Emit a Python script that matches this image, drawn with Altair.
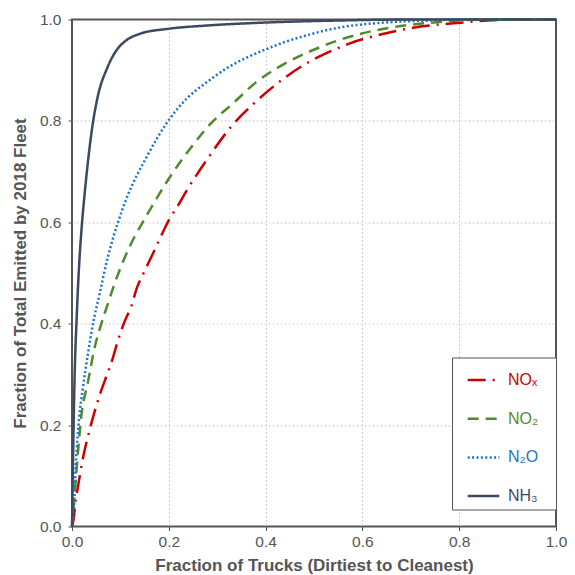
import altair as alt
import pandas as pd

series = ["NOₓ", "NO₂", "N₂O", "NH₃"]
colors = ["#cc0000", "#4f8a2b", "#1a73c9", "#3d4961"]
dashes = [[18, 7, 2, 7], [11, 7], [2, 2.4], [1, 0]]

nox_x = [0, 0.003, 0.008, 0.011, 0.021, 0.038, 0.060, 0.071, 0.083, 0.094, 0.109, 0.122, 0.135, 0.149,
         0.168, 0.186, 0.201, 0.217, 0.241, 0.282, 0.329, 0.38, 0.441, 0.482, 0.529, 0.574, 0.645, 0.72,
         0.795, 0.86, 0.9, 1.0]
nox_y = [0, 0.012, 0.055, 0.071, 0.127, 0.196, 0.267, 0.296, 0.328, 0.364, 0.405, 0.433, 0.473, 0.502,
         0.54, 0.577, 0.606, 0.63, 0.669, 0.728, 0.789, 0.838, 0.886, 0.912, 0.935, 0.953, 0.972, 0.986,
         0.993, 0.998, 1.0, 1.0]

no2_x = [0, 0.006, 0.012, 0.019, 0.033, 0.047, 0.060, 0.074, 0.088, 0.111, 0.129, 0.146, 0.168, 0.2,
         0.244, 0.291, 0.332, 0.38, 0.427, 0.482, 0.522, 0.557, 0.597, 0.665, 0.733, 0.8, 0.85, 1.0]
no2_y = [0, 0.071, 0.143, 0.216, 0.285, 0.354, 0.398, 0.439, 0.479, 0.535, 0.571, 0.6, 0.636, 0.686,
         0.745, 0.799, 0.834, 0.876, 0.906, 0.933, 0.949, 0.961, 0.972, 0.985, 0.993, 0.998, 1.0, 1.0]

n2o_x = [0, 0.005, 0.008, 0.015, 0.022, 0.033, 0.043, 0.057, 0.074, 0.094, 0.111, 0.156, 0.198, 0.237,
         0.278, 0.318, 0.359, 0.40, 0.441, 0.482, 0.522, 0.563, 0.62, 0.68, 0.74, 0.8, 1.0]
n2o_y = [0, 0.058, 0.124, 0.216, 0.27, 0.341, 0.398, 0.459, 0.531, 0.597, 0.643, 0.732, 0.799, 0.844,
         0.876, 0.903, 0.924, 0.941, 0.956, 0.968, 0.978, 0.986, 0.992, 0.996, 0.998, 1.0, 1.0]

nh3_x = [0, 0.005, 0.01, 0.015, 0.02, 0.026, 0.033, 0.043, 0.053, 0.073, 0.094, 0.107, 0.141, 0.202,
         0.277, 0.4, 0.55, 0.7, 1.0]
nh3_y = [0, 0.28, 0.42, 0.52, 0.59, 0.655, 0.72, 0.795, 0.847, 0.905, 0.942, 0.955, 0.972, 0.982,
         0.988, 0.994, 0.998, 1.0, 1.0]

ticks = [0.0, 0.2, 0.4, 0.6, 0.8, 1.0]

rows = []
for name, xs, ys in zip(series, [nox_x, no2_x, n2o_x, nh3_x], [nox_y, no2_y, n2o_y, nh3_y]):
    for i, (a, b) in enumerate(zip(xs, ys)):
        rows.append({"series": name, "x": a, "y": b, "i": i})
df = pd.DataFrame(rows)

label_expr = " : ".join(
    f"datum.value == '{s}' ? '{c}'" for s, c in zip(series, colors)
) + " : '#333'"

legend = alt.Legend(
    title=None, orient="none", legendX=380, legendY=338,
    strokeColor="#555", padding=5, cornerRadius=0, fillColor="white",
    symbolType="stroke", symbolSize=1000, symbolStrokeWidth=2.5, symbolOffset=9,
    labelFontSize=16, labelFont="Liberation Sans", labelOffset=7,
    labelColor={"expr": label_expr}, rowPadding=12.7,
    labelExpr="datum.label + '\u2800'",
)

grid_color = {"condition": {"test": "datum.value == 0 || datum.value == 1", "value": "transparent"},
              "value": "#cfcfcf"}

chart = alt.Chart(df).mark_line(strokeWidth=2.5, interpolate="monotone").encode(
    x=alt.X("x:Q", scale=alt.Scale(domain=[0, 1], nice=False),
            axis=alt.Axis(title="Fraction of Trucks (Dirtiest to Cleanest)", values=ticks, format=".1f",
                          gridColor=grid_color, labelPadding=4, titlePadding=7)),
    y=alt.Y("y:Q", scale=alt.Scale(domain=[0, 1], nice=False),
            axis=alt.Axis(title="Fraction of Total Emitted by 2018 Fleet", values=ticks, format=".1f",
                          gridColor=grid_color, labelPadding=7, titlePadding=10)),
    color=alt.Color("series:N", scale=alt.Scale(domain=series, range=colors), legend=legend),
    strokeDash=alt.StrokeDash("series:N", scale=alt.Scale(domain=series, range=dashes), legend=legend),
    order="i:Q",
).properties(
    width=484, height=507,
    autosize=alt.AutoSizeParams(type="none"),
    padding={"left": 64, "top": 11.5, "right": 11, "bottom": 48.5},
).configure_view(
    stroke="#555", strokeWidth=2,
).configure_axis(
    domain=False, tickColor="#555", tickSize=4, labelColor="#555", labelFontSize=15.5,
    labelFont="Liberation Sans", titleFont="Liberation Sans", titleFontSize=17,
    titleFontWeight="bold", titleColor="#555", gridDash=[2, 2],
    gridWidth=1, labelFlush=False,
)

chart.save("out.html", embed_options={"renderer": "svg", "actions": False})
